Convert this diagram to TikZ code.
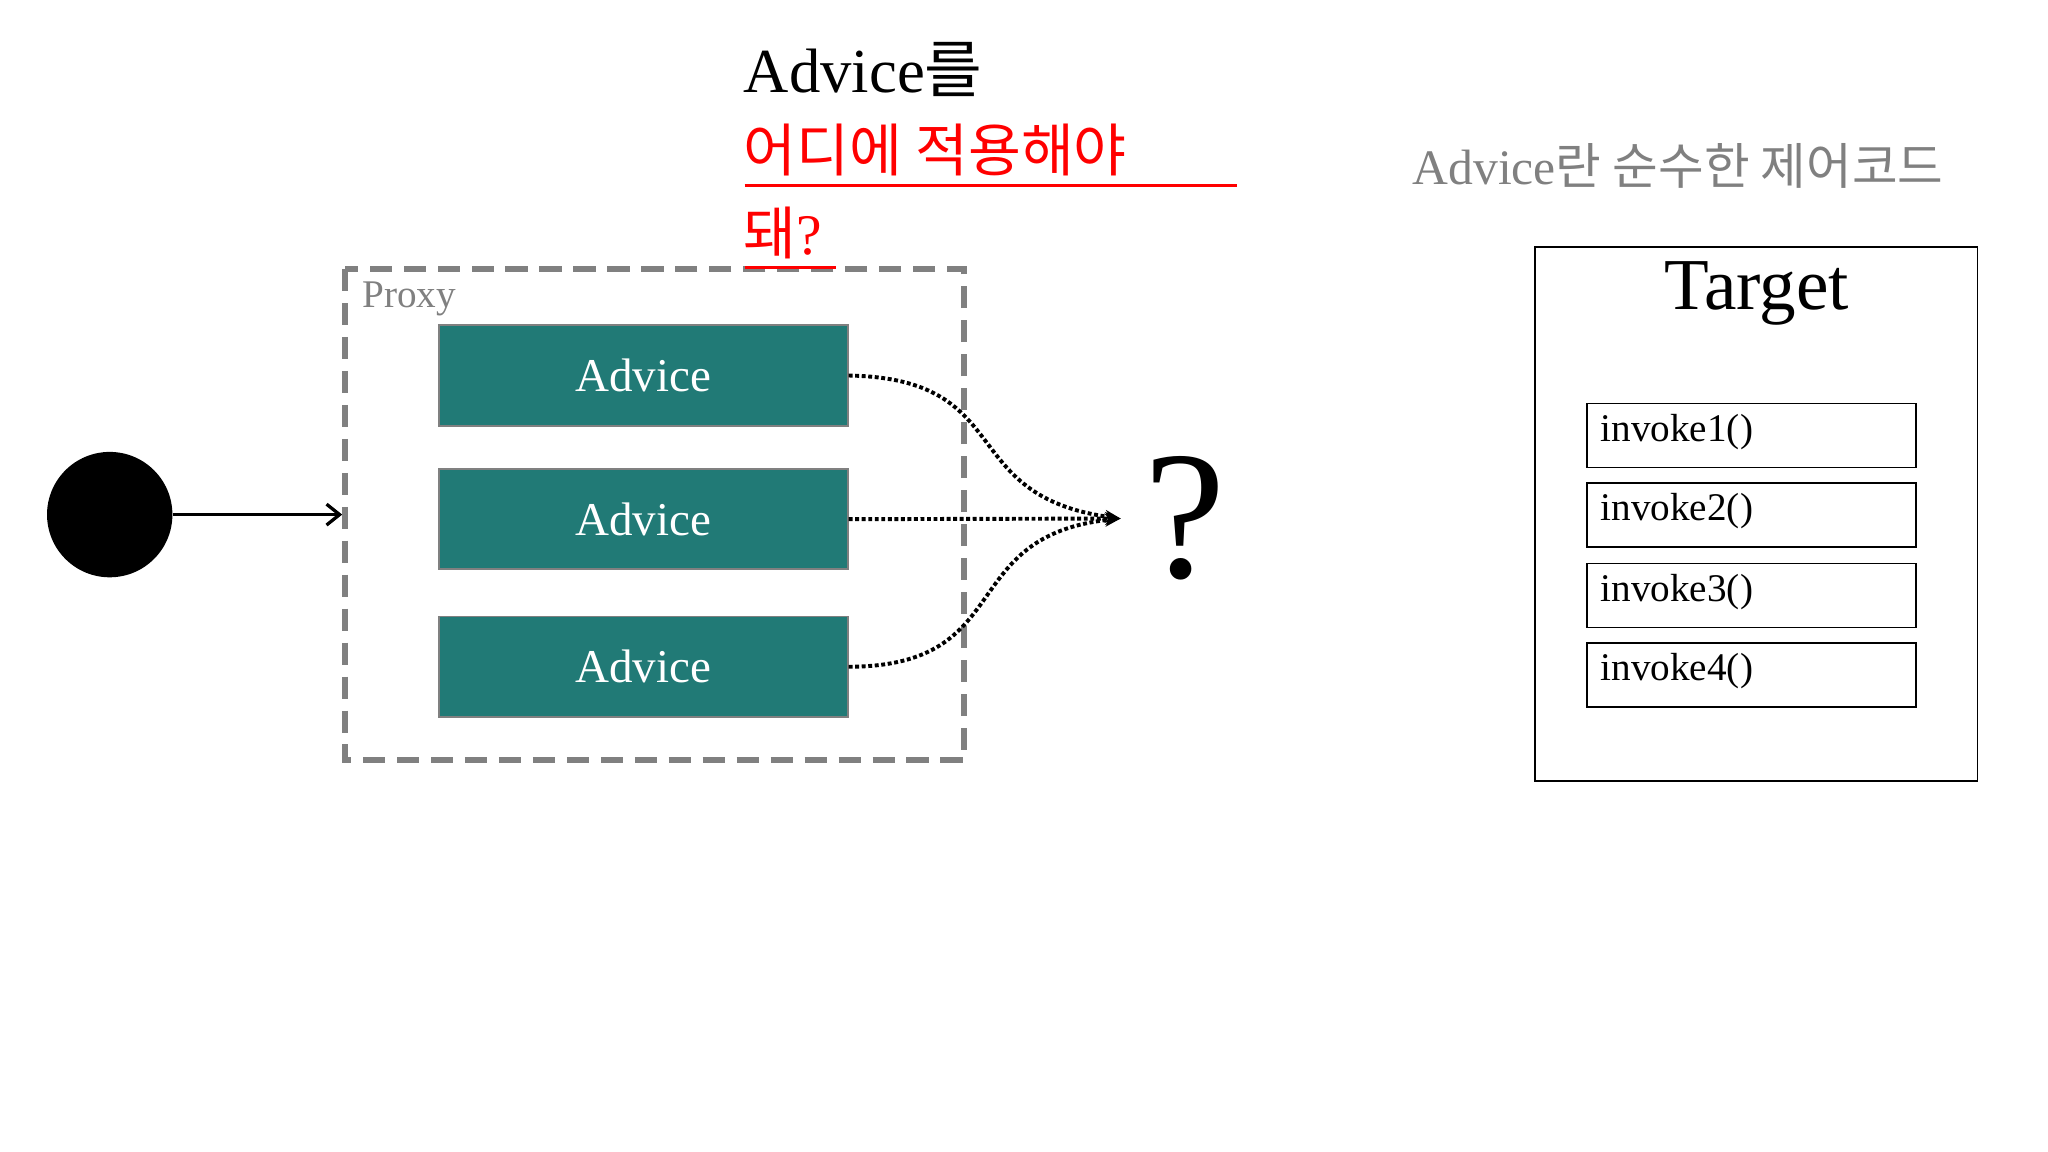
\documentclass[tikz,border=0pt]{standalone}
\usepackage{fontspec}
\setmainfont{Liberation Serif}
\newfontfamily\kr{Noto Sans CJK KR}
\usetikzlibrary{arrows.meta}
\definecolor{teal1}{HTML}{217A76}
\definecolor{gr}{HTML}{808080}
\begin{document}
\begin{tikzpicture}[x=1pt,y=-1pt,
  adv/.style={draw=gr,line width=1.5pt,fill=teal1,text=white,minimum width=313pt,minimum height=77pt,inner sep=0pt,font=\fontsize{36}{40}\selectfont},
  inv/.style={draw,line width=1.3pt,minimum width=252pt,minimum height=49pt,inner sep=0pt},
  dot/.style={line width=3pt,dotted,-{Stealth[length=12pt,width=10pt]}}]
\useasboundingbox (0,0) rectangle (1568,882);
\fill (84,394) circle (48) coordinate (c);
\node[circle,minimum size=96pt,inner sep=0pt] (circ) at (84,394) {};
\coordinate (pin) at (262,394);
\draw[line width=2.5pt,-{Straight Barb[length=10pt,width=16pt]}] (circ.east) -- (pin);
\draw[gr,line width=5pt,dash pattern=on 17pt off 9pt] (264,206) rectangle (738,582);
\node[gr,anchor=west,font=\fontsize{30}{32}\selectfont] (proxy) at (274,229) {Proxy};
\node[adv] (a1) at (492.5,287.5) {Advice};
\node[adv] (a2) at (492.5,397.5) {Advice};
\node[adv] (a3) at (492.5,510.5) {Advice};
\coordinate (q) at (858,397);
\draw[dot] (a1.east) .. controls (780,290) and (730,380) .. (q);
\draw[dot] (a2.east) -- (q);
\draw[dot] (a3.east) .. controls (780,510) and (730,410) .. (q);
\node[font=\fontsize{140}{140}\selectfont] (qm) at (907,397) {?};
\node[anchor=west,font=\fontsize{48}{52}\selectfont] (t1) at (566,53) {Advice{\kr 를}};
\node[anchor=west,text=red,font=\kr\fontsize{44}{48}\selectfont] (t2) at (566,115) {어디에 적용해야};
\draw[red,line width=2.5pt] (570,142) -- (947,142);
\node[anchor=west,text=red,font=\fontsize{44}{48}\selectfont] (t3) at (566,178) {{\kr 돼}?};
\draw[red,line width=2.5pt] (570,205) -- (640,205);
\node[anchor=west,text=gr,font=\fontsize{38}{40}\selectfont] (t4) at (1078,127) {Advice{\kr 란 순수한 제어코드}};
\draw[line width=1.5pt] (1175,189) rectangle (1514,598);
\node[font=\fontsize{56}{60}\selectfont] (tg) at (1345,225) {Target};
\foreach \i/\y in {1/333.5,2/394.5,3/456,4/517}{
  \node[inv] (i\i) at (1341,\y) {};
  \node[anchor=west,font=\fontsize{30}{32}\selectfont] (l\i) at (1222,\y-3) {invoke\i()};
}
\end{tikzpicture}
\end{document}
